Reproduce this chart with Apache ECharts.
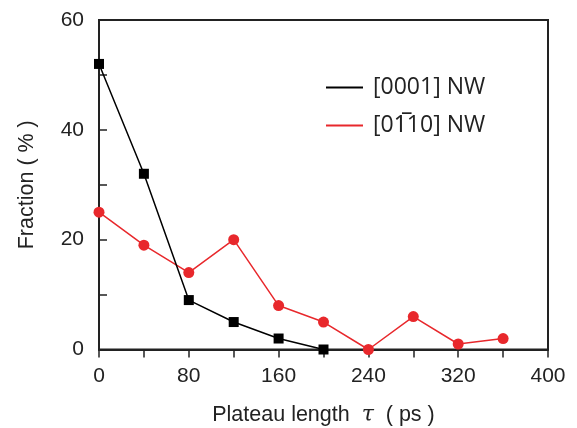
<!DOCTYPE html>
<html><head><meta charset="utf-8">
<script src="https://cdn.jsdelivr.net/npm/echarts@6/dist/echarts.min.js"></script>
<style>html,body{margin:0;padding:0;background:#fff}#c{width:577px;height:428px}</style>
</head><body><div id="c"></div>
<script>
const xBlack = [0, 40, 80, 120, 160, 200];
const yBlack = [52, 32, 9, 5, 2, 0];
const xRed = [0, 40, 80, 120, 160, 200, 240, 280, 320, 360];
const yRed = [25, 19, 14, 20, 8, 5, 0, 6, 1, 2];
const nameBlack = '[0001] NW';
const nameRed = '[01\u030510] NW';

const chart = echarts.init(document.getElementById('c'));
const font = 'Arial, "Liberation Sans", sans-serif';
const lfont = '"Open Sans", "Noto Sans", sans-serif';
chart.setOption({
  animation: false,
  grid: { left: 99, right: 29, top: 20, bottom: 78.5, show: true, borderColor: '#222', borderWidth: 2, backgroundColor: 'transparent', outerBoundsMode: 'none', containLabel: false },
  legend: {
    orient: 'vertical', left: 321, top: 71, itemWidth: 37, itemHeight: 2, itemGap: 15,
    icon: 'rect',
    textStyle: { fontFamily: lfont, fontSize: 23, color: '#222', padding: [0, 0, 0, 5] },
    data: [nameBlack, nameRed]
  },
  xAxis: {
    type: 'value', min: 0, max: 400, interval: 80,
    name: 'Plateau length  {t|τ}  ( ps )', nameLocation: 'middle', nameGap: 55, nameMoveOverlap: false,
    nameTextStyle: { fontFamily: font, fontSize: 21.5, color: '#222', rich: { t: { fontFamily: '"DejaVu Serif", serif', fontStyle: 'italic', fontSize: 22, color: '#222' } } },
    axisLine: { lineStyle: { color: '#222', width: 2 } },
    axisTick: { inside: false, length: 8, lineStyle: { color: '#222', width: 1.5 } },
    minorTick: { show: true, splitNumber: 2, length: 8, lineStyle: { color: '#222', width: 1.5 } },
    axisLabel: { fontFamily: font, fontSize: 21, color: '#222', margin: 16 },
    splitLine: { show: false }
  },
  yAxis: {
    type: 'value', min: 0, max: 60, interval: 20,
    name: 'Fraction ( % )', nameLocation: 'middle', nameGap: 61, nameMoveOverlap: false,
    nameTextStyle: { fontFamily: font, fontSize: 21.5, color: '#222' },
    axisLine: { lineStyle: { color: '#222', width: 2 } },
    axisTick: { inside: true, length: 8, lineStyle: { color: '#222', width: 1.5 } },
    minorTick: { show: true, splitNumber: 2, length: 8, lineStyle: { color: '#222', width: 1.5 } },
    axisLabel: { fontFamily: font, fontSize: 21, color: '#222', margin: 15 },
    splitLine: { show: false }
  },
  series: [
    { name: nameBlack, type: 'line', data: xBlack.map((x, i) => [x, yBlack[i]]),
      symbol: 'rect', symbolSize: 10, color: '#000', lineStyle: { color: '#000', width: 1.5 }, z: 3 },
    { name: nameRed, type: 'line', data: xRed.map((x, i) => [x, yRed[i]]),
      symbol: 'circle', symbolSize: 11, color: '#e8282c', lineStyle: { color: '#e8282c', width: 1.5 }, z: 2 }
  ]
});
</script></body></html>
